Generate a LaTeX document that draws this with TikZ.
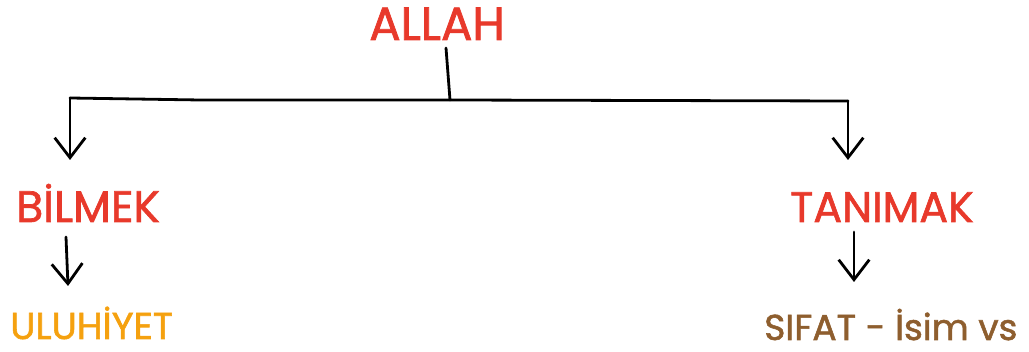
\documentclass[tikz,border=0pt]{standalone}
\usepackage{fontspec}
\setmainfont{Poppins}[FakeBold=1.5]
\usetikzlibrary{arrows.meta}
\definecolor{hred}{HTML}{E8392B}
\definecolor{horange}{HTML}{F5A10F}
\definecolor{hbrown}{HTML}{8E5E2E}
\tikzset{
  lbl/.style={inner sep=0pt, anchor=base west},
  conn/.style={line width=2.1pt, black, line cap=round, line join=round},
  arr/.style={conn, -{Straight Barb[length=15pt, width=23pt, line width=2.1pt]}},
}
\begin{document}
\begin{tikzpicture}[x=0.75pt,y=-0.75pt]
\useasboundingbox (0,0) rectangle (1029,352);
\node[lbl, text=hred, font=\fontsize{35}{40}\selectfont] (allah) at (369,40) {ALLAH};
\node[lbl, text=hred, font=\fontsize{33}{38}\selectfont] (bilmek) at (16,222) {BİLMEK};
\node[lbl, text=hred, font=\fontsize{32}{36}\selectfont] (tanimak) at (790,222) {TANIMAK};
\node[lbl, text=horange, font=\fontsize{28}{32}\selectfont] (uluhiyet) at (10,339) {ULUHİYET};
\node[lbl, text=hbrown, font=\fontsize{27}{31}\selectfont] (sifat) at (764,340) {SIFAT - İsim vs};
\coordinate (stemtop) at (446,48);
\coordinate (stem) at (450,100);
\coordinate (lc) at (70,98);
\coordinate (rc) at (848,101);
\coordinate (lt) at (70,160);
\coordinate (rt) at (848,160);
\coordinate (bs) at (66,237);
\coordinate (be) at (68,286);
\coordinate (ts) at (854,232);
\coordinate (te) at (854,282);
\draw[conn] (stemtop) -- (stem);
\draw[conn] (lc) -- (200,100) -- (stem) -- (rc);
\draw[arr] (lc) -- (lt);
\draw[arr] (rc) -- (rt);
\draw[arr] (bs) -- (be);
\draw[arr] (ts) -- (te);
\end{tikzpicture}
\end{document}
